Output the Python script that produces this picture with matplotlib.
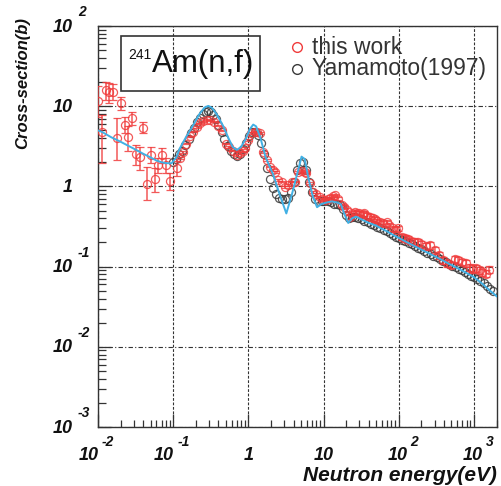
import matplotlib
matplotlib.use('Agg')
import matplotlib.pyplot as plt
from matplotlib.patches import Rectangle

plt.rcParams['font.family'] = ['Liberation Sans', 'DejaVu Sans']

# evaluated curve (blue line)
eval_x = [0.0100, 0.0114, 0.015, 0.02, 0.03, 0.04, 0.05, 0.06, 0.07, 0.08, 0.095,
          0.11, 0.123, 0.15, 0.185, 0.22, 0.26, 0.293, 0.33, 0.38, 0.465, 0.55,
          0.62, 0.70, 0.80, 0.92, 1.05, 1.16, 1.27, 1.45, 1.7, 2.14, 2.6, 3.2,
          3.8, 4.6, 5.1, 5.6, 6.26, 7.2, 8.2, 9.3, 11, 13, 15, 17, 19, 21.3, 24,
          27, 30, 40, 50, 60, 70, 80, 90, 100, 150, 200, 300, 500, 700, 1000,
          1300, 1600, 2050]
eval_y = [5.0, 4.76, 4.1, 3.6, 2.95, 2.55, 2.3, 2.1, 2.0, 1.95, 1.94,
          2.3, 3.0, 4.2, 5.8, 7.8, 9.6, 10.1, 9.5, 7.9, 5.6, 3.9,
          3.1, 2.85, 3.1, 3.9, 5.2, 5.9, 5.6, 4.0, 2.3, 1.4, 0.8, 0.46,
          0.8, 1.6, 2.35, 2.2, 1.3, 0.75, 0.55, 0.6, 0.63, 0.65, 0.63, 0.6, 0.45, 0.35, 0.40,
          0.42, 0.40, 0.35, 0.325, 0.295, 0.275, 0.255, 0.24, 0.228, 0.187, 0.163, 0.135, 0.105, 0.089, 0.074,
          0.061, 0.051, 0.042]

# Yamamoto(1997)
yam_x = [0.10, 0.11, 0.12, 0.13, 0.145, 0.16, 0.175, 0.19, 0.21, 0.23, 0.25, 0.27,
         0.29, 0.315, 0.34, 0.37, 0.40, 0.44, 0.48, 0.53, 0.58, 0.64, 0.70, 0.77,
         0.85, 0.93, 1.02, 1.11, 1.22, 1.33, 1.46, 1.6, 1.75, 1.92, 2.1, 2.3, 2.55,
         2.8, 3.1, 3.4, 3.7, 4.1, 4.5, 4.9, 5.4, 5.9, 6.5, 7.1, 7.8, 8.6, 9.4, 10.3,
         11.3, 12.4, 13.6, 15.0, 16.5, 18.0, 19.8, 21.7, 23.8, 26, 29, 32, 35, 39,
         43, 47, 52, 57, 63, 69, 76, 84, 92, 101, 111, 122, 135, 148, 163, 180, 198,
         218, 240, 265, 290, 320, 352, 388, 427, 470, 517, 570, 627, 690, 760, 835,
         920, 1010, 1110, 1220, 1345, 1480, 1630, 1790]
yam_y = [2.0, 2.2, 2.5, 2.8, 3.3, 3.9, 4.6, 5.4, 6.3, 7.2, 7.9, 8.4,
         8.6, 8.4, 7.8, 6.9, 5.9, 4.8, 3.9, 3.2, 2.8, 2.5, 2.4, 2.5,
         2.9, 3.5, 4.2, 4.7, 4.8, 4.4, 3.5, 2.5, 1.7, 1.25, 0.95, 0.80, 0.72,
         0.69, 0.69, 0.72, 0.85, 1.15, 1.6, 1.95, 2.0, 1.6, 1.15, 0.85, 0.70, 0.65, 0.65, 0.66,
         0.66, 0.64, 0.61, 0.60, 0.58, 0.52, 0.44, 0.40, 0.41, 0.42, 0.40, 0.39, 0.375, 0.36,
         0.34, 0.33, 0.315, 0.30, 0.29, 0.275, 0.26, 0.245, 0.235, 0.227, 0.217, 0.207, 0.198, 0.189, 0.180, 0.171, 0.164,
         0.156, 0.149, 0.142, 0.137, 0.130, 0.124, 0.119, 0.113, 0.108, 0.103, 0.098, 0.094, 0.090, 0.085, 0.081,
         0.077, 0.074, 0.070, 0.066, 0.062, 0.057, 0.053, 0.049]

# this work, low energy (large errors)
low_x = [0.0101, 0.0112, 0.0128, 0.0141, 0.0160, 0.0180, 0.0200, 0.0229, 0.0253, 0.0286,
         0.032, 0.0362, 0.040, 0.0452, 0.050, 0.0567, 0.0627, 0.071, 0.080, 0.090, 0.113]
low_y = [11.5, 4.76, 15.9, 15.2, 15.2, 4.06, 10.9, 5.85, 4.1, 7.05,
         2.53, 2.33, 5.4, 1.07, 2.46, 1.22, 1.84, 2.46, 1.84, 1.17, 1.69]
low_lo = [7.3, 1.94, 12.0, 10.9, 12.0, 2.15, 9.0, 4.6, 2.8, 5.85,
          1.85, 1.6, 4.6, 0.68, 1.94, 0.86, 1.46, 1.94, 1.46, 0.90, 1.35]
low_hi = [17.8, 7.77, 20.2, 19.3, 19.0, 7.1, 13.1, 7.4, 5.6, 8.5,
          3.3, 3.1, 6.4, 1.77, 3.1, 1.68, 2.25, 3.0, 2.25, 1.46, 2.1]

# this work, above 0.12 eV
tw_x = [0.123, 0.136, 0.150, 0.167, 0.185, 0.205, 0.227, 0.25, 0.28, 0.31, 0.35, 0.40,
        0.44, 0.50, 0.56, 0.63, 0.70, 0.77, 0.84, 0.90, 0.99, 1.10, 1.22, 1.32, 1.42,
        1.58, 1.75, 1.94, 2.1, 2.27, 2.5, 2.77, 3.07, 3.4, 3.77, 4.17, 4.6, 5.1, 5.6,
        5.9, 6.6, 7.3, 7.9, 8.9, 9.6, 10.4, 11.3, 12.2, 13.2, 14.2, 15.5, 17.4, 19.0,
        20.3, 22.3, 24, 26.2, 28, 30, 33, 35, 38, 41, 45, 48, 52, 56, 62, 69, 75, 85,
        92, 99, 110, 120, 132, 145, 160, 178, 200, 230, 260, 300, 340, 390, 440, 500,
        560, 620, 700, 780, 880, 980, 1080, 1200, 1300, 1450, 1600]
tw_y = [2.25, 2.7, 3.4, 4.2, 4.8, 5.5, 6.1, 6.5, 6.8, 6.7, 6.4, 5.7,
        5.0, 3.4, 3.1, 2.8, 2.46, 2.6, 2.75, 3.0, 3.8, 4.6, 4.8, 4.7, 4.6,
        2.7, 2.15, 1.77, 1.6, 1.53, 1.2, 1.15, 0.99, 1.04, 1.15, 1.15, 1.5, 1.55, 1.53,
        1.47, 1.1, 0.85, 0.80, 0.73, 0.70, 0.68, 0.70, 0.72, 0.76, 0.78, 0.70, 0.58, 0.55,
        0.51, 0.42, 0.46, 0.48, 0.47, 0.47, 0.45, 0.46, 0.43, 0.42, 0.40, 0.39, 0.37, 0.36, 0.35, 0.36, 0.33, 0.30,
        0.29, 0.30, 0.235, 0.225, 0.218, 0.21, 0.205, 0.20, 0.19, 0.18, 0.185, 0.16, 0.14, 0.12, 0.11, 0.105,
        0.125, 0.12, 0.115, 0.11, 0.097, 0.094, 0.095, 0.09, 0.085, 0.082, 0.092]
tw_err = [0.05, 0.06, 0.07, 0.08, 0.1, 0.1, 0.1, 0.1, 0.1, 0.1, 0.1, 0.1,
          0.1, 0.07, 0.06, 0.06, 0.05, 0.05, 0.05, 0.06, 0.08, 0.1, 0.1, 0.1, 0.1,
          0.06, 0.05, 0.04, 0.04, 0.04, 0.03, 0.03, 0.03, 0.03, 0.03, 0.03, 0.04, 0.04, 0.04,
          0.04, 0.03, 0.03, 0.03, 0.02, 0.02, 0.02, 0.02, 0.02, 0.03, 0.03, 0.03, 0.02, 0.03,
          0.03, 0.025, 0.03, 0.03, 0.03, 0.03, 0.03, 0.03, 0.03, 0.03, 0.025, 0.025, 0.025, 0.025, 0.025, 0.025, 0.02, 0.02,
          0.02, 0.02, 0.02, 0.02, 0.02, 0.02, 0.02, 0.02, 0.02, 0.018, 0.018, 0.016, 0.014, 0.012, 0.011, 0.01,
          0.012, 0.012, 0.011, 0.011, 0.01, 0.01, 0.01, 0.009, 0.009, 0.008, 0.009]

x_ticks = [0.01, 0.1, 1, 10, 100, 1000]
x_base = ['10', '10', '1', '10', '10', '10']
x_exp = ['-2', '-1', '', '', '2', '3']
y_ticks = [1e-3, 1e-2, 1e-1, 1, 10, 100]
y_base = ['10', '10', '10', '1', '10', '10']
y_exp = ['-3', '-2', '-1', '', '', '2']

RED = '#f03c3c'
GREY = '#3a3a3a'
BLUE = '#41b0e4'

fig = plt.figure(figsize=(5.02, 4.86), dpi=100)
ax = fig.add_axes([98/502, 1-427/486, 399/502, 401/486])
ax.set_xscale('log')
ax.set_yscale('log')
ax.set_xlim(0.01, 2030)
ax.set_ylim(1e-3, 1e2)

ax.plot(yam_x, yam_y, 'o', ms=5.8, mfc='none', mec=GREY, mew=0.9, alpha=0.85, zorder=3)
low_err = [[y - l for y, l in zip(low_y, low_lo)], [h - y for y, h in zip(low_y, low_hi)]]
ax.errorbar(low_x, low_y, yerr=low_err, fmt='o', ms=5.8, mfc='none', mec=RED, mew=0.9,
            ecolor=RED, elinewidth=1.1, capsize=3, capthick=1.1, alpha=0.85, zorder=4)
ax.errorbar(tw_x, tw_y, yerr=tw_err, fmt='o', ms=5.8, mfc='none', mec=RED, mew=0.9,
            ecolor=RED, elinewidth=1.1, capsize=3, capthick=1.1, alpha=0.8, zorder=4)
ax.plot(eval_x, eval_y, '-', color=BLUE, lw=1.4, zorder=5)

ax.xaxis.grid(True, which='major', ls=(0, (2.5, 1.5)), color='#333333', lw=0.8)
ax.yaxis.grid(True, which='major', ls=(0, (4, 2, 1, 2)), color='#333333', lw=0.8)
ax.tick_params(which='both', direction='in', top=False, right=False,
               labelbottom=False, labelleft=False, color='#333333', width=0.9)
ax.tick_params(which='major', length=9.4)
ax.tick_params(axis='x', which='minor', length=5)
ax.tick_params(axis='y', which='minor', length=5.8)
for s in ax.spines.values():
    s.set_linewidth(1.0)
    s.set_color('#333333')

lab = dict(fontsize=13, fontweight='bold', fontstyle='italic', color='#111111')
exf = dict(fontsize=10, fontweight='bold', fontstyle='italic', color='#111111')
xt = ax.get_xaxis_transform()
for v, b, e in zip(x_ticks, x_base, x_exp):
    if e:
        dx = 1 if e.startswith('-') else 9
        ax.annotate(b, (v, 0), xytext=(dx, -28), textcoords='offset pixels', xycoords=xt,
                    ha='right', va='center', **lab)
        ax.annotate(e, (v, 0), xytext=(dx + 3, -15), textcoords='offset pixels', xycoords=xt,
                    ha='left', va='center', **exf)
    else:
        ax.annotate(b, (v, 0), xytext=(0, -28), textcoords='offset pixels', xycoords=xt,
                    ha='center', va='center', **lab)
yt = ax.get_yaxis_transform()
for v, b, e in zip(y_ticks, y_base, y_exp):
    ax.annotate(b, (0, v), xytext=(-25, -1), textcoords='offset pixels', xycoords=yt,
                ha='right', va='center', **lab)
    if e:
        ax.annotate(e, (0, v), xytext=(-20, 14), textcoords='offset pixels', xycoords=yt,
                    ha='left', va='center', **exf)

fig.text(497/502, 1-475/486, 'Neutron energy(eV)', ha='right', va='center',
         **dict(lab, fontsize=15))
fig.text(23/502, 1-17/486, 'Cross-section(b)', ha='center', va='top', rotation=90,
         **dict(lab, fontsize=12))

# label box
ax.add_patch(Rectangle((121/502, 1-91/486), 139/502, 55/486, transform=fig.transFigure,
                       fill=False, ec='#333333', lw=1.2, zorder=6))
fig.text(152/502, 1-64/486, 'Am(n,f)', ha='left', va='center', fontsize=22.5, color='#111111')
fig.text(128/502, 1-55/486, '241', ha='left', va='center', fontsize=10, color='#111111')

# legend
ax.plot([297/502], [1-47/486], 'o', ms=7, mfc='none', mec=RED, mew=1.0,
        transform=fig.transFigure, clip_on=False)
ax.plot([297/502], [1-69/486], 'o', ms=7, mfc='none', mec=GREY, mew=1.0,
        transform=fig.transFigure, clip_on=False)
fig.text(312/502, 1-47/486, 'this work', ha='left', va='center', fontsize=16.5, color='#333333')
fig.text(312/502, 1-69/486, 'Yamamoto(1997)', ha='left', va='center', fontsize=16.5, color='#333333')

fig.savefig('out.png', dpi=100)
